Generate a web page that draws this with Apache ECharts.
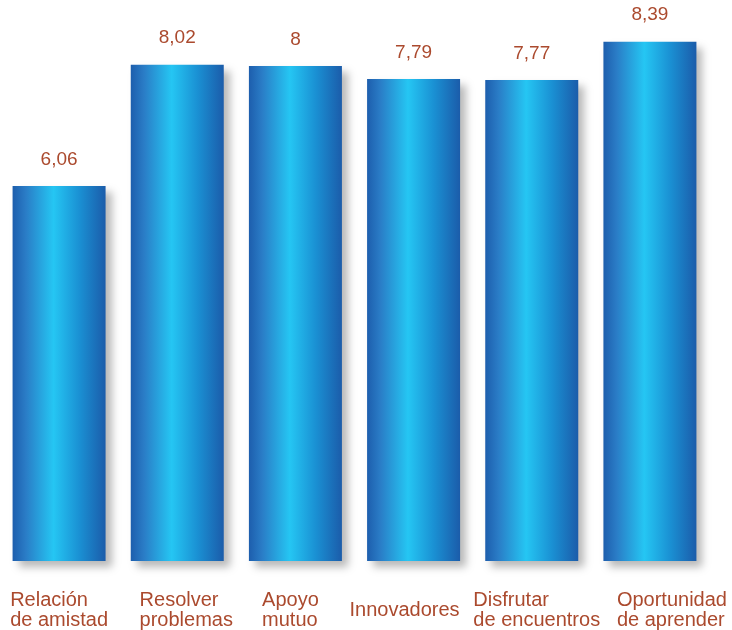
<!DOCTYPE html>
<html>
<head>
<meta charset="utf-8">
<script src="https://cdn.jsdelivr.net/npm/echarts@6/dist/echarts.min.js"></script>
<style>
  html, body { margin: 0; padding: 0; background: #fff; }
  #chart { width: 732px; height: 630px; }
</style>
</head>
<body>
<div id="chart"></div>
<script>
// datos
const categories = [
  'Relación\nde amistad',
  'Resolver\nproblemas',
  'Apoyo\nmutuo',
  'Innovadores',
  'Disfrutar\nde encuentros',
  'Oportunidad\nde aprender'
]
const values = [6.06, 8.02, 8, 7.79, 7.77, 8.39]

// desplazamiento horizontal de cada etiqueta (px)
const labelShift = [0, 9, -5, -9, 5, 22]

const labelColor = '#ab4a2e'
const font = '"Liberation Sans", Arial, sans-serif'

const rich = {}
labelShift.forEach((s, i) => {
  rich['s' + i] = {
    align: 'left',
    color: labelColor,
    fontSize: 20,
    lineHeight: 20,
    fontFamily: font,
    padding: s > 0 ? [0, 0, 0, 2 * s] : [0, -2 * s, 0, 0]
  }
})

const barGradient = new echarts.graphic.LinearGradient(0, 0, 1, 0, [
  { offset: 0, color: '#1d5ead' },
  { offset: 0.14, color: '#2a7cc6' },
  { offset: 0.44, color: '#25c6f3' },
  { offset: 0.72, color: '#1a90d3' },
  { offset: 1, color: '#1b5caa' }
])

const chart = echarts.init(document.getElementById('chart'))
chart.setOption({
  animation: false,
  grid: { left: 0, right: 23, top: 4, bottom: 69 },
  xAxis: {
    type: 'category',
    data: categories,
    axisLine: { show: false },
    axisTick: { show: false },
    axisLabel: {
      interval: 0,
      margin: 49,
      verticalAlign: 'middle',
      formatter: (val, idx) =>
        val.split('\n').map((l) => `{s${idx}|${l}}`).join('\n'),
      rich: rich
    }
  },
  yAxis: {
    type: 'value',
    min: 0,
    max: 9,
    show: false,
    splitLine: { show: false }
  },
  series: [
    {
      type: 'bar',
      data: values,
      barWidth: 93,
      itemStyle: {
        color: barGradient,
        shadowColor: 'rgba(0,0,0,0.28)',
        shadowBlur: 8,
        shadowOffsetX: 6,
        shadowOffsetY: 6
      },
      label: {
        show: true,
        position: 'top',
        distance: 17,
        color: labelColor,
        fontSize: 19,
        fontFamily: font,
        formatter: (p) => String(p.value).replace('.', ',')
      }
    }
  ]
})
</script>
</body>
</html>
